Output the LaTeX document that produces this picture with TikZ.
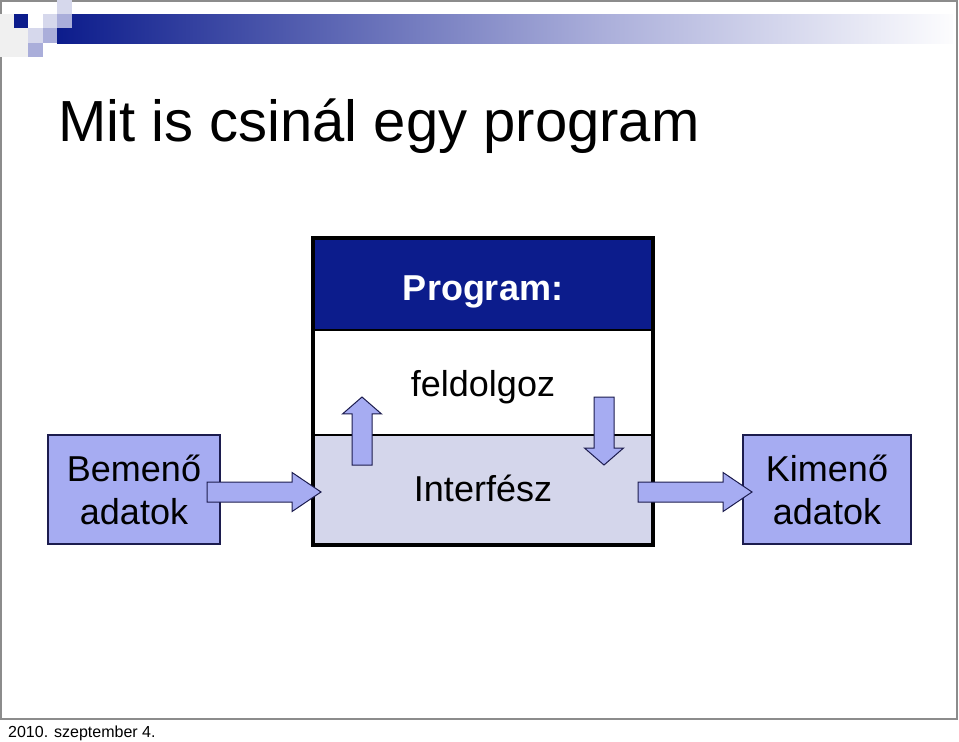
\documentclass[tikz,border=0pt]{standalone}
\usepackage{fontspec}
\setmainfont{Liberation Sans}
\usetikzlibrary{positioning,shapes.arrows}
\definecolor{slideblue}{RGB}{12,28,140}
\definecolor{periwinkle}{RGB}{166,172,242}
\definecolor{paleblue}{RGB}{212,214,235}
\definecolor{navyline}{RGB}{28,28,78}
\definecolor{decomid}{RGB}{170,174,218}
\definecolor{decolight}{RGB}{214,216,236}
\definecolor{framegray}{RGB}{140,140,140}

\tikzset{
  progpart/.style={draw=black,line width=1.5pt,minimum width=340pt,inner sep=0pt,outer sep=0pt,text depth=0pt,font=\fontsize{36}{40}\selectfont},
  databox/.style={draw=navyline,fill=periwinkle,line width=1.3pt,minimum width=#1,minimum height=109pt,inner sep=0pt,align=center,font=\fontsize{36}{43}\selectfont},
  blockarrow/.style={single arrow,draw=navyline,fill=periwinkle,line width=1pt,minimum height=#1,inner sep=0pt,inner ysep=9.5pt,outer sep=0pt,single arrow head extend=9.5pt,single arrow head indent=0pt,anchor=tip}
}

\begin{document}
\begin{tikzpicture}[x=1pt,y=-1pt,line join=miter]
\useasboundingbox (0,0) rectangle (959,742);
% slide frame and header decoration
\draw[framegray,line width=1.2pt] (1,1) rectangle (957,719);
\fill[black!6] (0,14) rectangle (28,57);
\shade[left color=slideblue,right color=decomid] (57,14) rectangle (600,43);
\shade[left color=decomid,right color=white!97!decomid] (599.5,14) rectangle (953,43);
\fill[decolight] (57,0) rectangle (72,14);
\fill[decolight] (43,14) rectangle (57,28);
\fill[decomid] (57,14) rectangle (72,28);
\fill[decomid] (43,28) rectangle (57,43);
\fill[decolight] (28,28) rectangle (43,43);
\fill[decomid] (28,43) rectangle (43,57);
\fill[slideblue] (14,14) rectangle (28,28);
\node[anchor=base west,font=\fontsize{58}{62}\selectfont,inner sep=0pt] (title) at (58,141) {Mit is csinál egy program};

% program box
\node[progpart,fill=slideblue,minimum height=92pt,text height=32pt,text=white,font=\bfseries\fontsize{36}{40}\selectfont] (header) at (483,284) {Program:};
\node[progpart,fill=white,minimum height=105pt,text height=27pt,below=0pt of header] (work) {feldolgoz};
\node[progpart,fill=paleblue,minimum height=110pt,text height=22pt,below=0pt of work] (iface) {Interfész};
\draw[line width=3.5pt] (header.north west) rectangle (iface.south east);

% data boxes
\node[databox=172pt] (inbox) at (134,489.5) {Bemenő\\adatok};
\node[databox=168pt] (outbox) at (827,489.5) {Kimenő\\adatok};

% block arrows
\node[blockarrow=114pt,single arrow tip angle=68] (inarrow) at (321,492) {};
\node[blockarrow=114pt,single arrow tip angle=68] (outarrow) at (752,492) {};
\node[blockarrow=68pt,single arrow tip angle=98,rotate=90] (uparrow) at (362,397) {};
\node[blockarrow=68pt,single arrow tip angle=98,rotate=-90] (downarrow) at (604,465) {};

\node[anchor=base west,font=\fontsize{16}{18}\selectfont,inner sep=0pt] (date) at (8,737) {2010. szeptember 4.};
\end{tikzpicture}
\end{document}
